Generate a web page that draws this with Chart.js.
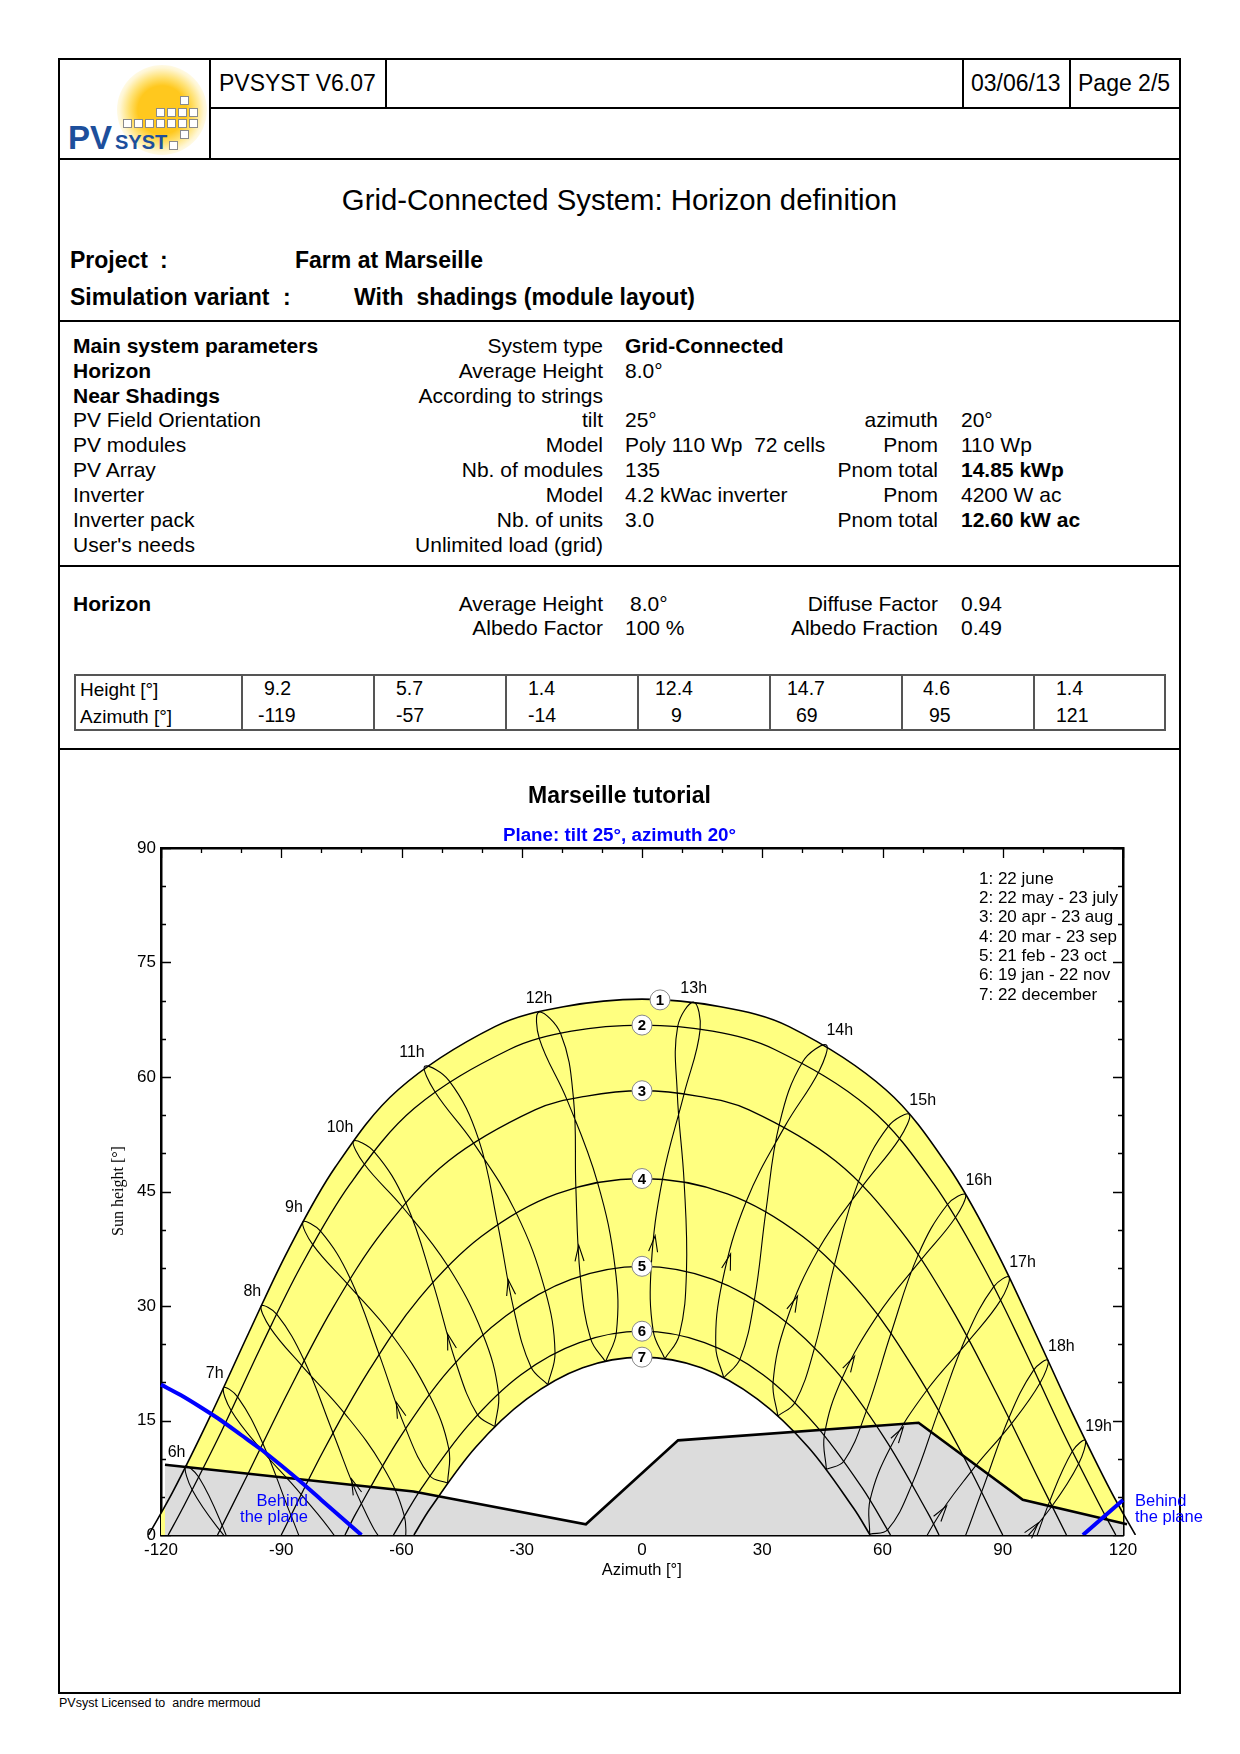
<!DOCTYPE html>
<html>
<head>
<meta charset="utf-8">
<script src="https://cdn.jsdelivr.net/npm/chart.js"></script>
<style>
  body { margin: 0; width: 1240px; height: 1754px; position: relative; background: #fff;
         font-family: "Liberation Sans", Arial, sans-serif; color: #000; overflow: hidden; }
  .t { position: absolute; white-space: pre; line-height: 1; }
  .ln { position: absolute; background: #000; }
  #c { position: absolute; left: 60px; top: 760px; }
</style>
</head>
<body>
<canvas id="c" width="1120" height="860"></canvas>

<script>
// ---------------- data ----------------
const xTicks = [-120, -90, -60, -30, 0, 30, 60, 90, 120];
const yTicks = [0, 15, 30, 45, 60, 75, 90];

// horizon profile (also listed in the table)
const horizonAz = [-119, -57, -14, 9, 69, 95, 121];
const horizonH  = [9.2, 5.7, 1.4, 12.4, 14.7, 4.6, 1.4];

// sun paths [azimuth, height] for the 7 dates
const path1 = [[-123.1,0],[-117.0,5.7],[-107.5,15.8],[-98.1,26.5],[-88.2,37.4],[-76.5,48.2],[-60.9,58.3],[-36.7,66.6],[-19.6,69.2],[0,70.2],
               [19.6,69.2],[36.7,66.6],[60.9,58.3],[76.5,48.2],[88.2,37.4],[98.1,26.5],[107.5,15.8],[117.0,5.7],[123.1,0]];
const path2 = [[-118.2,0],[-114.7,3.4],[-104.9,13.6],[-95.3,24.4],[-85.0,35.3],[-72.8,46.0],[-56.8,55.9],[-33.1,63.6],[-17.6,66.0],[0,66.8],
               [17.6,66.0],[33.1,63.6],[56.8,55.9],[72.8,46.0],[85.0,35.3],[95.3,24.4],[104.9,13.6],[114.7,3.4],[118.2,0]];
const path3 = [[-105.9,0],[-98.4,7.9],[-88.3,18.7],[-77.3,29.6],[-64.5,39.9],[-48.3,49.0],[-26.7,55.7],[-13.8,57.5],[0,58.2],
               [13.8,57.5],[26.7,55.7],[48.3,49.0],[64.5,39.9],[77.3,29.6],[88.3,18.7],[98.4,7.9],[105.9,0]];
const path4 = [[-90,0],[-79.6,10.9],[-68.4,21.3],[-55.6,31.0],[-40.1,39.1],[-21.3,44.7],[0,46.7],
               [21.3,44.7],[40.1,39.1],[55.6,31.0],[68.4,21.3],[79.6,10.9],[90,0]];
const path5 = [[-74.1,0],[-71.4,2.8],[-60.5,12.7],[-48.2,21.6],[-34.0,28.7],[-17.7,33.5],[0,35.2],
               [17.7,33.5],[34.0,28.7],[48.2,21.6],[60.5,12.7],[71.4,2.8],[74.1,0]];
const path6 = [[-62.0,0],[-54.9,6.2],[-43.3,14.4],[-30.2,21.0],[-15.6,25.2],[0,26.7],
               [15.6,25.2],[30.2,21.0],[43.3,14.4],[54.9,6.2],[62.0,0]];
const path7 = [[-56.9,0],[-52.8,3.5],[-41.5,11.5],[-28.8,17.8],[-14.8,21.9],[0,23.3],
               [14.8,21.9],[28.8,17.8],[41.5,11.5],[52.8,3.5],[56.9,0]];

const dateLabels = ['1: 22 june', '2: 22 may - 23 july', '3: 20 apr - 23 aug', '4: 20 mar - 23 sep',
                    '5: 21 feb - 23 oct', '6: 19 jan - 22 nov', '7: 22 december'];
const markNum = ['1', '2', '3', '4', '5', '6', '7'];
const markAz  = [4.5, 0, 0, 0, 0, 0, 0];
const markH   = [70.1, 66.8, 58.2, 46.7, 35.2, 26.7, 23.3];

// hour lines (legal time), one point per date: dec jan feb mar apr may jun jul aug sep oct nov
const hourNames = ['6h','7h','8h','9h','10h','11h','12h','13h','14h','15h','16h','17h','18h','19h'];
const hour06 = [[-78.2,-22.3],[-83.1,-22.3],[-90.4,-17.3],[-97.9,-8.3],[-104.7,1.2],[-110.6,7.6],[-113.9,9.0],[-112.2,5.9],[-105.3,0.6],[-95.3,-5.6],[-85.4,-12.0],[-79.1,-17.9]];
const hour07 = [[-68.9,-11.9],[-73.4,-11.7],[-80.3,-6.5],[-87.6,2.6],[-94.6,12.0],[-100.9,18.1],[-104.4,19.3],[-102.5,16.3],[-95.2,11.3],[-85.0,5.3],[-75.3,-1.2],[-69.4,-7.4]];
const hour08 = [[-59.1,-2.0],[-63.6,-1.5],[-70.0,4.1],[-77.1,13.4],[-84.3,22.9],[-91.1,28.9],[-95.0,30.0],[-92.7,27.1],[-84.9,22.2],[-74.3,16.0],[-64.8,9.1],[-59.3,2.5]];
const hour09 = [[-48.5,6.8],[-53.0,7.8],[-59.0,14.0],[-65.6,23.7],[-72.8,33.6],[-80.2,39.8],[-84.6,41.0],[-82.1,38.0],[-73.5,32.9],[-62.4,26.2],[-53.1,18.4],[-48.2,11.3]];
const hour10 = [[-36.7,14.2],[-41.1,15.8],[-46.5,22.7],[-52.2,33.1],[-58.9,43.5],[-66.8,50.2],[-72.0,51.6],[-69.3,48.6],[-59.8,43.0],[-48.4,35.2],[-39.7,26.3],[-35.8,18.6]];
const hour11 = [[-23.5,19.7],[-27.7,22.0],[-32.0,29.6],[-36.0,40.7],[-40.8,51.9],[-48.1,59.5],[-54.2,61.4],[-51.7,58.1],[-42.1,51.4],[-31.4,42.2],[-24.2,32.1],[-21.7,23.9]];
const hour12 = [[-9.1,22.7],[-12.8,25.7],[-15.4,33.9],[-16.5,45.5],[-17.1,57.2],[-20.3,65.7],[-25.7,68.5],[-25.6,65.0],[-18.7,57.0],[-11.1,46.2],[-6.7,35.0],[-6.4,26.5]];
const hour13 = [[5.7,23.1],[2.8,26.7],[2.3,35.2],[5.1,46.6],[10.5,57.8],[14.5,66.2],[12.9,69.8],[8.9,66.6],[8.8,57.9],[10.5,46.3],[11.1,34.6],[9.3,26.2]];
const hour14 = [[20.4,20.6],[18.4,24.7],[20.0,33.1],[26.0,43.7],[35.6,53.5],[44.2,60.8],[46.0,64.2],[40.1,62.0],[34.3,53.9],[30.9,42.4],[28.1,31.0],[24.5,23.1]];
const hour15 = [[33.9,15.6],[32.7,20.0],[36.0,28.0],[44.0,37.4],[55.0,45.7],[64.2,51.9],[66.7,55.1],[61.4,53.5],[54.0,46.3],[48.0,35.4],[43.1,24.6],[38.2,17.4]];
const hour16 = [[46.0,8.6],[45.5,13.1],[49.9,20.5],[58.8,28.8],[69.7,36.1],[78.2,41.6],[80.7,44.6],[76.2,43.3],[68.9,36.7],[62.1,26.4],[56.0,16.3],[50.4,9.7]];
const hour17 = [[56.8,0.1],[56.9,4.6],[62.0,11.5],[71.1,19.0],[81.6,25.5],[89.4,30.7],[91.6,33.8],[87.7,32.5],[81.0,26.1],[74.0,16.3],[67.4,6.7],[61.3,0.7]];
const hour18 = [[66.7,-9.6],[67.2,-5.1],[72.7,1.4],[82.1,8.3],[92.2,14.6],[99.3,19.9],[101.3,22.9],[97.7,21.6],[91.5,15.3],[84.7,5.6],[77.7,-3.8],[71.3,-9.3]];
const hour19 = [[76.1,-19.9],[76.9,-15.5],[82.9,-9.3],[92.4,-2.6],[102.3,3.8],[108.9,9.3],[110.6,12.4],[107.4,11.0],[101.7,4.4],[95.0,-5.3],[87.8,-14.6],[80.9,-19.9]];

// limit where the sun is behind the tilted plane
const behindLeft  = [[-120,19.7],[-115,18.3],[-110,16.7],[-105,15.0],[-100,13.1],[-95,11.2],[-90,9.1],[-85,6.9],[-80,4.6],[-75,2.3],[-70,0]];
const behindRight = [[110,0],[115,2.3],[120,4.6]];

// ---------------- page layout ----------------
function put(txt, x, y, o = {}) {
  const d = document.createElement('div');
  d.className = 't';
  d.textContent = txt;
  d.style.left = x + 'px';
  d.style.top = y + 'px';
  d.style.fontSize = (o.size || 21) + 'px';
  if (o.bold) d.style.fontWeight = 'bold';
  if (o.color) d.style.color = o.color;
  if (o.font) d.style.fontFamily = o.font;
  const tx = o.align === 'right' ? '-100%' : o.align === 'center' ? '-50%' : '0';
  d.style.transform = 'translate(' + tx + ',-50%)' + (o.rot ? ' rotate(' + o.rot + 'deg)' : '');
  document.body.appendChild(d);
}
function rule(x, y, w, h, color) {
  const d = document.createElement('div');
  d.className = 'ln';
  d.style.left = x + 'px'; d.style.top = y + 'px';
  d.style.width = w + 'px'; d.style.height = h + 'px';
  if (color) d.style.background = color;
  document.body.appendChild(d);
}

// outer frame + header grid
rule(58, 58, 1123, 2); rule(58, 1692, 1123, 2);
rule(58, 58, 2, 1636); rule(1179, 58, 2, 1636);
rule(209, 58, 2, 101);
rule(385, 58, 2, 50); rule(962, 58, 2, 50); rule(1069, 58, 2, 50);
rule(209, 107, 972, 2);
rule(58, 158, 1123, 2);
rule(58, 320, 1123, 2);
rule(58, 565, 1123, 2);
rule(58, 748, 1123, 2);

// logo
(function () {
  const sun = document.createElement('div');
  sun.style.cssText = 'position:absolute;left:117px;top:65px;width:90px;height:90px;border-radius:50%;' +
    'background:radial-gradient(circle, #ffc81e 0%, #ffc81e 38%, rgba(255,218,80,0.8) 52%, rgba(255,236,160,0.45) 66%, rgba(255,255,255,0) 78%);';
  document.body.appendChild(sun);
  const sq = (x, y) => {
    const s = document.createElement('div');
    s.style.cssText = 'position:absolute;width:7px;height:7px;border:1px solid #8a8a8a;background:#fff;left:' + x + 'px;top:' + y + 'px;';
    document.body.appendChild(s);
  };
  sq(180, 96);
  [156, 167, 178, 189].forEach(x => sq(x, 108));
  [123, 134, 145, 156, 167, 178, 189].forEach(x => sq(x, 119));
  sq(180, 130);
  sq(169, 141);
  put('PV', 68, 137, {size: 33, bold: true, color: '#1d4f9c'});
  put('SYST', 115, 142, {size: 20, bold: true, color: '#1d4f9c'});
})();

put('PVSYST V6.07', 219, 83, {size: 23});
put('03/06/13', 971, 83, {size: 23});
put('Page 2/5', 1078, 83, {size: 23});

put('Grid-Connected System: Horizon definition', 619.5, 200, {size: 29.3, align: 'center'});
put('Project', 70, 260, {size: 23, bold: true});
put(':', 160, 260, {size: 23, bold: true});
put('Farm at Marseille', 295, 260, {size: 23, bold: true});
put('Simulation variant', 70, 297, {size: 23, bold: true});
put(':', 283, 297, {size: 23, bold: true});
put('With  shadings (module layout)', 354, 297, {size: 23, bold: true});

// main parameters block
const rowsY = [345, 370, 395, 419, 444, 469, 494, 519, 544];
const c1 = 73, c2 = 603, c3 = 625, c4 = 938, c5 = 961;
const params = [
  ['Main system parameters', true, 'System type', 'Grid-Connected', true, '', '', false],
  ['Horizon', true, 'Average Height', '8.0°', false, '', '', false],
  ['Near Shadings', true, 'According to strings', '', false, '', '', false],
  ['PV Field Orientation', false, 'tilt', '25°', false, 'azimuth', '20°', false],
  ['PV modules', false, 'Model', 'Poly 110 Wp  72 cells', false, 'Pnom', '110 Wp', false],
  ['PV Array', false, 'Nb. of modules', '135', false, 'Pnom total', '14.85 kWp', true],
  ['Inverter', false, 'Model', '4.2 kWac inverter', false, 'Pnom', '4200 W ac', false],
  ['Inverter pack', false, 'Nb. of units', '3.0', false, 'Pnom total', '12.60 kW ac', true],
  ["User's needs", false, 'Unlimited load (grid)', '', false, '', '', false]
];
params.forEach((r, i) => {
  const y = rowsY[i];
  put(r[0], c1, y, {bold: r[1]});
  if (r[2]) put(r[2], c2, y, {align: 'right'});
  if (r[3]) put(r[3], c3, y, {bold: r[4]});
  if (r[5]) put(r[5], c4, y, {align: 'right'});
  if (r[6]) put(r[6], c5, y, {bold: r[7]});
});

// horizon block
put('Horizon', 73, 603, {bold: true});
put('Average Height', c2, 603, {align: 'right'});
put('8.0°', 630, 603);
put('Albedo Factor', c2, 627, {align: 'right'});
put('100 %', 625, 627);
put('Diffuse Factor', c4, 603, {align: 'right'});
put('0.94', c5, 603);
put('Albedo Fraction', c4, 627, {align: 'right'});
put('0.49', c5, 627);

// horizon table
rule(74, 674, 1092, 2, '#555'); rule(74, 729, 1092, 2, '#555');
rule(74, 674, 2, 57, '#555'); rule(1164, 674, 2, 57, '#555');
const colLines = [241, 373, 505, 637, 769, 901, 1033];
colLines.forEach(x => rule(x, 674, 1.5, 57, '#555'));
put('Height [°]', 80, 689, {size: 19});
put('Azimuth [°]', 80, 716, {size: 19});
const hX = [264, 396, 528, 655, 787, 923, 1056];
const aX = [258, 396, 528, 671, 796, 929, 1056];
horizonH.forEach((v, i) => put(v.toFixed(1), hX[i], 689, {size: 19.5}));
horizonAz.forEach((v, i) => put(String(v), aX[i], 716, {size: 19.5}));

// chart titles, legend, axis titles
put('Marseille tutorial', 619.5, 795, {size: 23, bold: true, align: 'center'});
put('Plane: tilt 25°, azimuth 20°', 619.5, 835, {size: 18.8, bold: true, color: '#0000ff', align: 'center'});
const legY = [878, 897, 916, 936, 955, 974, 994];
dateLabels.forEach((s, i) => put(s, 979, legY[i], {size: 17}));
put('Sun height [°]', 118, 1191, {size: 16, align: 'center', rot: -90, font: '"Liberation Serif", "DejaVu Serif", serif'});
put('Azimuth [°]', 641.8, 1569, {size: 16.5, align: 'center'});
put('Behind', 308, 1500, {size: 16.5, color: '#0000ff', align: 'right'});
put('the plane', 308, 1516, {size: 16.5, color: '#0000ff', align: 'right'});
put('Behind', 1135, 1500, {size: 16.5, color: '#0000ff'});
put('the plane', 1135, 1516, {size: 16.5, color: '#0000ff'});
put('PVsyst Licensed to  andre mermoud', 59, 1703, {size: 12.5});

// ---------------- chart ----------------
const pts = arr => arr.map(p => ({x: p[0], y: p[1]}));
const CLIP = {left: 20, top: 0, right: 20, bottom: 0};

const datasets = [];
// yellow band between 22 june and 22 december
datasets.push({ data: pts(path1.concat(path7.slice().reverse())), showLine: true, fill: 'shape',
  backgroundColor: '#ffff80', borderWidth: 0, pointRadius: 0, tension: 0.35, order: 30, clip: CLIP });
// horizon
datasets.push({ data: pts(horizonAz.map((a, i) => [a, horizonH[i]])), showLine: true, fill: 'origin',
  backgroundColor: '#dcdcdc', borderColor: '#000', borderWidth: 2.6, pointRadius: 0, tension: 0, order: 29, clip: CLIP });
// date curves
[path1, path2, path3, path4, path5, path6, path7].forEach((p, i) => {
  datasets.push({ data: pts(p), showLine: true, fill: false, borderColor: '#000',
    borderWidth: (i === 0 || i === 6) ? 1.6 : 1.3, pointRadius: 0, tension: 0.35, order: 20, clip: CLIP });
});
// hour lines; arrow drawn on the feb->mar stretch (mar->apr for 19h)
[hour06, hour07, hour08, hour09, hour10, hour11, hour12, hour13, hour14, hour15, hour16, hour17, hour18, hour19].forEach((p, i) => {
  const name = hourNames[i];
  const ds = { data: pts(p.concat([p[0]])), showLine: true, fill: false, borderColor: '#000',
    borderWidth: 1.1, pointRadius: 0, tension: 0.4, order: 15, clip: CLIP, hourLabel: name };
  if (name === '19h') { ds.arrowSeg = 3; ds.arrowT = 0.65; }
  else if (name !== '6h' && name !== '7h') { ds.arrowSeg = 2; ds.arrowT = 0.35; }
  datasets.push(ds);
});
// behind-the-plane limits
[behindLeft, behindRight].forEach(p => {
  datasets.push({ data: pts(p), showLine: true, fill: false, borderColor: '#0000ff',
    borderWidth: 4, pointRadius: 0, tension: 0.3, order: 5, clip: CLIP });
});
// circled curve numbers
datasets.push({ data: markAz.map((a, i) => ({x: a, y: markH[i]})), showLine: false,
  pointRadius: 10, pointBackgroundColor: '#fff', pointBorderColor: '#888', pointBorderWidth: 1,
  order: 1, clip: false, markers: true });

const frameTicks = {
  id: 'frameTicks',
  beforeDatasetsDraw(chart) {
    const {ctx, chartArea: a, scales: {x, y}} = chart;
    ctx.save();
    ctx.strokeStyle = '#000';
    ctx.lineWidth = 1.3;
    ctx.beginPath();
    for (let v = -120; v <= 120; v += 10) {
      const px = Math.round(x.getPixelForValue(v)) + 0.5;
      const len = v % 30 === 0 ? 10 : 5;
      ctx.moveTo(px, a.top); ctx.lineTo(px, a.top + len);
      ctx.moveTo(px, a.bottom); ctx.lineTo(px, a.bottom - len);
    }
    for (let v = 0; v <= 90; v += 5) {
      const py = Math.round(y.getPixelForValue(v)) + 0.5;
      const len = v % 15 === 0 ? 10 : 5;
      ctx.moveTo(a.left, py); ctx.lineTo(a.left + len, py);
      ctx.moveTo(a.right, py); ctx.lineTo(a.right - len, py);
    }
    ctx.stroke();
    ctx.restore();
  }
};

const curveText = {
  id: 'curveText',
  afterDatasetsDraw(chart) {
    const ctx = chart.ctx;
    ctx.save();
    chart.data.datasets.forEach((ds, i) => {
      const meta = chart.getDatasetMeta(i);
      if (ds.arrowSeg !== undefined) {
        const p0 = meta.data[ds.arrowSeg], p1 = meta.data[ds.arrowSeg + 1];
        const tx = p0.x + (p1.x - p0.x) * ds.arrowT, ty = p0.y + (p1.y - p0.y) * ds.arrowT;
        const len = Math.hypot(p1.x - p0.x, p1.y - p0.y);
        const ux = (p1.x - p0.x) / len, uy = (p1.y - p0.y) / len;
        ctx.strokeStyle = '#000';
        ctx.lineWidth = 1.1;
        ctx.beginPath();
        ctx.moveTo(tx - ux * 16 - uy * 4.5, ty - uy * 16 + ux * 4.5);
        ctx.lineTo(tx, ty);
        ctx.lineTo(tx - ux * 16 + uy * 4.5, ty - uy * 16 - ux * 4.5);
        ctx.stroke();
      }
      if (ds.hourLabel) {
        const el = meta.data[6];   // 22 june end of the hour loop
        const n = parseInt(ds.hourLabel, 10);
        ctx.font = '16px "Liberation Sans", Arial, sans-serif';
        ctx.fillStyle = '#000';
        ctx.textBaseline = 'middle';
        ctx.textAlign = n <= 11 ? 'right' : (n <= 13 ? 'center' : 'left');
        ctx.fillText(ds.hourLabel, el.x, el.y - 14);
      }
      if (ds.markers) {
        ctx.font = 'bold 15px "Liberation Sans", Arial, sans-serif';
        ctx.fillStyle = '#000';
        ctx.textBaseline = 'middle';
        ctx.textAlign = 'center';
        meta.data.forEach((el, k) => ctx.fillText(markNum[k], el.x, el.y + 1));
      }
    });
    ctx.restore();
  }
};

const tickFont = {family: '"Liberation Sans", Arial, sans-serif', size: 17};
new Chart(document.getElementById('c'), {
  type: 'scatter',
  data: {datasets},
  options: {
    responsive: false,
    animation: false,
    events: [],
    devicePixelRatio: 1,
    layout: {padding: {left: 56, right: 57, top: 88, bottom: 50}},
    elements: {line: {capBezierPoints: false}},
    plugins: {legend: {display: false}, tooltip: {enabled: false}},
    scales: {
      x: {
        type: 'linear', position: 'bottom', min: -120, max: 120,
        afterBuildTicks: s => { s.ticks = xTicks.map(v => ({value: v})); },
        afterFit: s => { s.height = 35; },
        ticks: {color: '#000', font: tickFont, padding: 5, maxRotation: 0, autoSkip: false},
        grid: {display: false, drawTicks: false},
        border: {display: true, color: '#000', width: 2.5}
      },
      x2: {
        type: 'linear', position: 'top', min: -120, max: 120,
        afterFit: s => { s.height = 0; },
        ticks: {display: false},
        grid: {display: false, drawTicks: false},
        border: {display: true, color: '#000', width: 2.5}
      },
      y: {
        type: 'linear', position: 'left', min: 0, max: 90,
        afterBuildTicks: s => { s.ticks = yTicks.map(v => ({value: v})); },
        afterFit: s => { s.width = 45; },
        ticks: {color: '#000', font: tickFont, padding: 5, autoSkip: false},
        grid: {display: false, drawTicks: false},
        border: {display: true, color: '#000', width: 2.5}
      },
      y2: {
        type: 'linear', position: 'right', min: 0, max: 90,
        afterFit: s => { s.width = 0; },
        ticks: {display: false},
        grid: {display: false, drawTicks: false},
        border: {display: true, color: '#000', width: 2.5}
      }
    }
  },
  plugins: [frameTicks, curveText]
});
</script>
</body>
</html>
